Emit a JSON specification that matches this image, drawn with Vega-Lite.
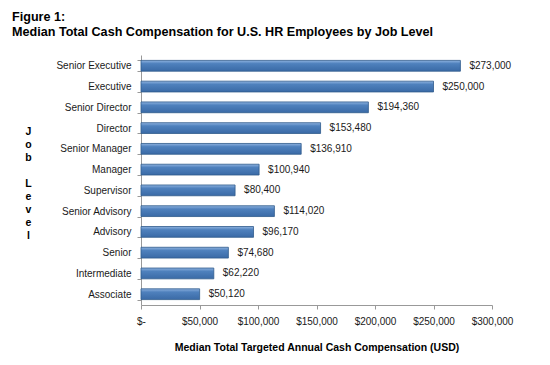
{
  "$schema": "https://vega.github.io/schema/vega-lite/v6.json",
  "width": 351,
  "height": 250,
  "autosize": "none",
  "padding": {"left": 141, "top": 55, "right": 58, "bottom": 60},
  "background": "white",
  "title": {
    "text": ["Figure 1:", "Median Total Cash Compensation for U.S. HR Employees by Job Level"],
    "anchor": "start",
    "frame": "group",
    "dx": -129,
    "dy": -7,
    "font": "Liberation Sans",
    "fontSize": 12.6,
    "fontWeight": "bold",
    "color": "#000000",
    "lineHeight": 15
  },
  "data": {
    "values": [
      {"level": "Senior Executive", "value": 273000},
      {"level": "Executive", "value": 250000},
      {"level": "Senior Director", "value": 194360},
      {"level": "Director", "value": 153480},
      {"level": "Senior Manager", "value": 136910},
      {"level": "Manager", "value": 100940},
      {"level": "Supervisor", "value": 80400},
      {"level": "Senior Advisory", "value": 114020},
      {"level": "Advisory", "value": 96170},
      {"level": "Senior", "value": 74680},
      {"level": "Intermediate", "value": 62220},
      {"level": "Associate", "value": 50120}
    ]
  },
  "encoding": {
    "y": {
      "field": "level",
      "type": "nominal",
      "sort": null,
      "scale": {"paddingInner": 0.48, "paddingOuter": 0.26},
      "axis": {
        "title": ["J", "o", "b", "\u2800", "L", "e", "v", "e", "l"],
        "titleAngle": 0,
        "titleLineHeight": 13,
        "titleFont": "Liberation Sans",
        "titleFontSize": 10.5,
        "titleFontWeight": "bold",
        "titleColor": "#000000",
        "titleX": -113,
        "titleY": 71,
        "titleAlign": "center",
        "titleBaseline": "top",
        "labelFont": "Liberation Sans",
        "labelFontSize": 10,
        "labelColor": "#1a1a1a",
        "labelPadding": 6,
        "tickBand": "extent",
        "tickSize": 4,
        "tickColor": "#999999",
        "domainColor": "#999999",
        "grid": false
      }
    },
    "x": {
      "field": "value",
      "type": "quantitative",
      "scale": {"domain": [0, 300000], "nice": false},
      "axis": {
        "values": [0, 50000, 100000, 150000, 200000, 250000, 300000],
        "labelExpr": "datum.value == 0 ? '$-' : '$' + format(datum.value, ',')",
        "labelOverlap": false,
        "labelFlush": false,
        "title": "Median Total Targeted Annual Cash Compensation (USD)",
        "titleFont": "Liberation Sans",
        "titleFontSize": 10.5,
        "titleFontWeight": "bold",
        "titleColor": "#000000",
        "titlePadding": 16,
        "labelFont": "Liberation Sans",
        "labelFontSize": 10,
        "labelColor": "#1a1a1a",
        "labelPadding": 7,
        "tickSize": 4,
        "tickColor": "#999999",
        "domainColor": "#999999",
        "grid": false
      }
    }
  },
  "layer": [
    {
      "mark": {
        "type": "bar",
        "stroke": "#2f5a8c",
        "strokeWidth": 0.8,
        "fill": {
          "gradient": "linear",
          "x1": 0, "y1": 0, "x2": 0, "y2": 1,
          "stops": [
            {"offset": 0, "color": "#8fb3e0"},
            {"offset": 0.3, "color": "#4f81bd"},
            {"offset": 1, "color": "#3a6aa6"}
          ]
        }
      }
    },
    {
      "mark": {
        "type": "text",
        "align": "left",
        "baseline": "middle",
        "dx": 9,
        "font": "Liberation Sans",
        "fontSize": 10,
        "color": "#1a1a1a"
      },
      "encoding": {
        "text": {"field": "value", "type": "quantitative", "format": "$,.0f"}
      }
    }
  ],
  "config": {
    "view": {"stroke": null}
  }
}
